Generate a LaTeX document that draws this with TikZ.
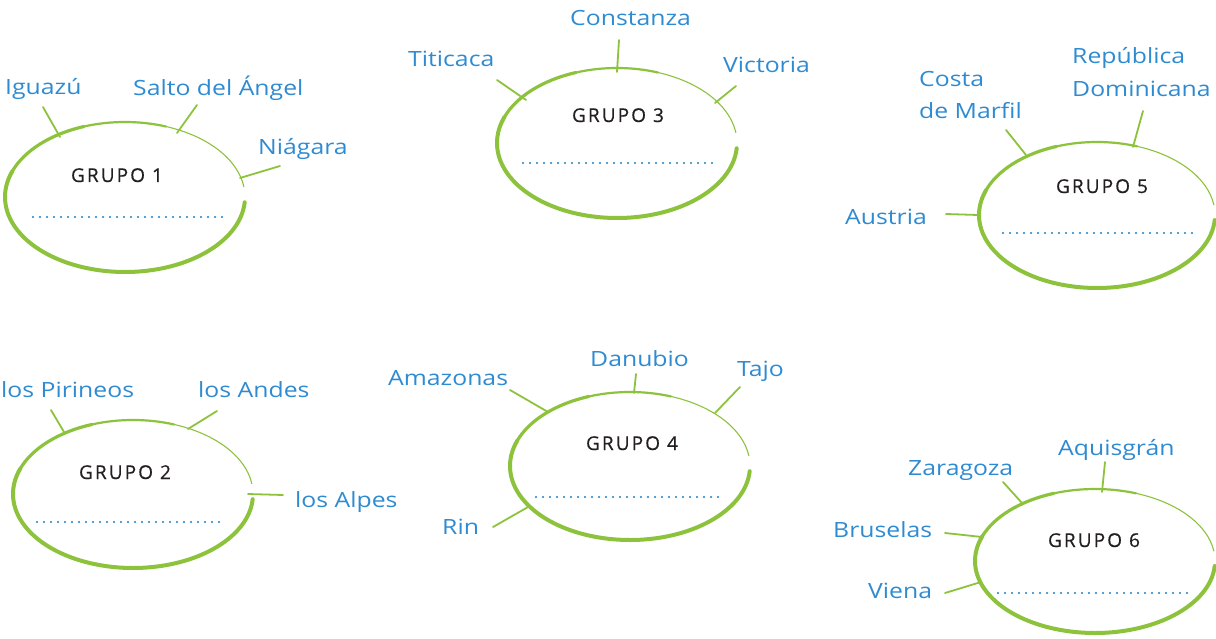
\documentclass[tikz,border=0pt]{standalone}
\usepackage{fontspec}
\newfontfamily\handfont[FakeStretch=1.18]{Open Sans}
\newfontfamily\grupofont[LetterSpace=11,FakeBold=0.6]{Open Sans}
\definecolor{ringgreen}{HTML}{8DC23C}
\definecolor{labelblue}{HTML}{2E8BD2}
\definecolor{dotblue}{HTML}{1A7FC6}
\definecolor{grupogray}{HTML}{231F20}
\tikzset{
  lbl/.style={anchor=base west, inner sep=0pt, text=labelblue, font=\handfont\fontsize{21}{32}\selectfont},
  grp/.style={anchor=base, inner sep=0pt, text=grupogray, font=\grupofont\fontsize{19}{22}\selectfont},
  conn/.style={draw=ringgreen, line width=1.8pt, line cap=round},
  dotline/.style={draw=dotblue, line width=2.4pt, line cap=round, dash pattern=on 0pt off 7pt},
  ringA/.style={draw=ringgreen, line width=4.0pt, line cap=round},
  ringB/.style={draw=ringgreen, line width=3.2pt, line cap=round},
  ringC/.style={draw=ringgreen, line width=2.2pt, line cap=round},
  ringD/.style={draw=ringgreen, line width=1.1pt, line cap=round},
}
\newcommand\ringshape[4]{%
  \draw[ringA] (#1,#2) ++(4:#3 and #4) arc[start angle=4,end angle=200,x radius=#3,y radius=#4];
  \draw[ringB] (#1,#2) ++(200:#3 and #4) arc[start angle=200,end angle=250,x radius=#3,y radius=#4];
  \draw[ringC] (#1,#2) ++(250:#3 and #4) arc[start angle=250,end angle=290,x radius=#3,y radius=#4];
  \draw[ringD] (#1,#2) ++(290:#3 and #4) arc[start angle=290,end angle=352,x radius=#3,y radius=#4];
}
\begin{document}
\begin{tikzpicture}[x=1pt,y=-1pt]
\useasboundingbox (0,0) rectangle (1216,639);

% ---------------- GRUPO 1
\ringshape{125}{197}{120}{75}
\node[grp] (g1) at (117,182) {GRUPO 1};
\coordinate (d1a) at (33,217); \coordinate (d1b) at (225,217);
\draw[dotline] (d1a) -- (d1b);
\node[lbl] (iguazu) at (5,95) {Iguazú};
\node[lbl] (salto) at (133,96) {Salto del Ángel};
\node[lbl] (niagara) at (258,155) {Niágara};
\coordinate (t1a) at (43,107); \coordinate (r1a) at (60,137);
\coordinate (t1b) at (197,105); \coordinate (r1b) at (177,133);
\coordinate (t1c) at (280,166); \coordinate (r1c) at (240,178);
\draw[conn] (t1a) -- (r1a);
\draw[conn] (t1b) -- (r1b);
\draw[conn] (t1c) -- (r1c);

% ---------------- GRUPO 3
\ringshape{617}{143}{120}{75}
\node[grp] (g3) at (618,122) {GRUPO 3};
\coordinate (d3a) at (523,163); \coordinate (d3b) at (713,163);
\draw[dotline] (d3a) -- (d3b);
\node[lbl] (constanza) at (570,26) {Constanza};
\node[lbl] (titicaca) at (408,67) {Titicaca};
\node[lbl] (victoria) at (723,73) {Victoria};
\coordinate (t3a) at (619,40); \coordinate (r3a) at (617,72);
\coordinate (t3b) at (497,80); \coordinate (r3b) at (526,100);
\coordinate (t3c) at (736,86); \coordinate (r3c) at (715,103);
\draw[conn] (t3a) -- (r3a);
\draw[conn] (t3b) -- (r3b);
\draw[conn] (t3c) -- (r3c);

% ---------------- GRUPO 5
\ringshape{1097}{215}{118}{73}
\node[grp] (g5) at (1102,193) {GRUPO 5};
\coordinate (d5a) at (1003,233); \coordinate (d5b) at (1193,233);
\draw[dotline] (d5a) -- (d5b);
\node[lbl] (costa1) at (919,87) {Costa};
\node[lbl] (costa2) at (919,119) {de Marfil};
\node[lbl] (rep1) at (1072,64) {República};
\node[lbl] (rep2) at (1072,97) {Dominicana};
\node[lbl] (austria) at (845,225) {Austria};
\coordinate (t5a) at (1006,130); \coordinate (r5a) at (1026,155);
\coordinate (t5b) at (1143,111); \coordinate (r5b) at (1133,147);
\coordinate (t5c) at (946,214); \coordinate (r5c) at (978,215);
\draw[conn] (t5a) -- (r5a);
\draw[conn] (t5b) -- (r5b);
\draw[conn] (t5c) -- (r5c);

% ---------------- GRUPO 2
\ringshape{133}{494}{120}{74}
\node[grp] (g2) at (125,479) {GRUPO 2};
\coordinate (d2a) at (37,522); \coordinate (d2b) at (225,522);
\draw[dotline] (d2a) -- (d2b);
\node[lbl] (pirineos) at (1,397) {los Pirineos};
\node[lbl] (andes) at (198,397) {los Andes};
\node[lbl] (alpes) at (295,507) {los Alpes};
\coordinate (t2a) at (51,410); \coordinate (r2a) at (64,432);
\coordinate (t2b) at (217,411); \coordinate (r2b) at (188,429);
\coordinate (t2c) at (283,495); \coordinate (r2c) at (248,494);
\draw[conn] (t2a) -- (r2a);
\draw[conn] (t2b) -- (r2b);
\draw[conn] (t2c) -- (r2c);

% ---------------- GRUPO 4
\ringshape{630}{466}{120}{74}
\node[grp] (g4) at (632,450) {GRUPO 4};
\coordinate (d4a) at (536,497); \coordinate (d4b) at (725,497);
\draw[dotline] (d4a) -- (d4b);
\node[lbl] (danubio) at (590,366) {Danubio};
\node[lbl] (amazonas) at (388,385) {Amazonas};
\node[lbl] (tajo) at (737,376) {Tajo};
\node[lbl] (rin) at (442,534) {Rin};
\coordinate (t4a) at (636,374); \coordinate (r4a) at (634,393);
\coordinate (t4b) at (510,390); \coordinate (r4b) at (548,412);
\coordinate (t4c) at (740,387); \coordinate (r4c) at (715,413);
\coordinate (t4d) at (493,527); \coordinate (r4d) at (528,507);
\draw[conn] (t4a) -- (r4a);
\draw[conn] (t4b) -- (r4b);
\draw[conn] (t4c) -- (r4c);
\draw[conn] (t4d) -- (r4d);

% ---------------- GRUPO 6
\ringshape{1095}{561}{120}{72}
\node[grp] (g6) at (1094,547) {GRUPO 6};
\coordinate (d6a) at (998,593); \coordinate (d6b) at (1190,593);
\draw[dotline] (d6a) -- (d6b);
\node[lbl] (aquisgran) at (1058,455) {Aquisgrán};
\node[lbl] (zaragoza) at (908,475) {Zaragoza};
\node[lbl] (bruselas) at (833,537) {Bruselas};
\node[lbl] (viena) at (868,598) {Viena};
\coordinate (t6a) at (1105,462); \coordinate (r6a) at (1102,492);
\coordinate (t6b) at (1003,482); \coordinate (r6b) at (1022,503);
\coordinate (t6c) at (945,533); \coordinate (r6c) at (982,537);
\coordinate (t6d) at (945,593); \coordinate (r6d) at (981,582);
\draw[conn] (t6a) -- (r6a);
\draw[conn] (t6b) -- (r6b);
\draw[conn] (t6c) -- (r6c);
\draw[conn] (t6d) -- (r6d);
\end{tikzpicture}
\end{document}
